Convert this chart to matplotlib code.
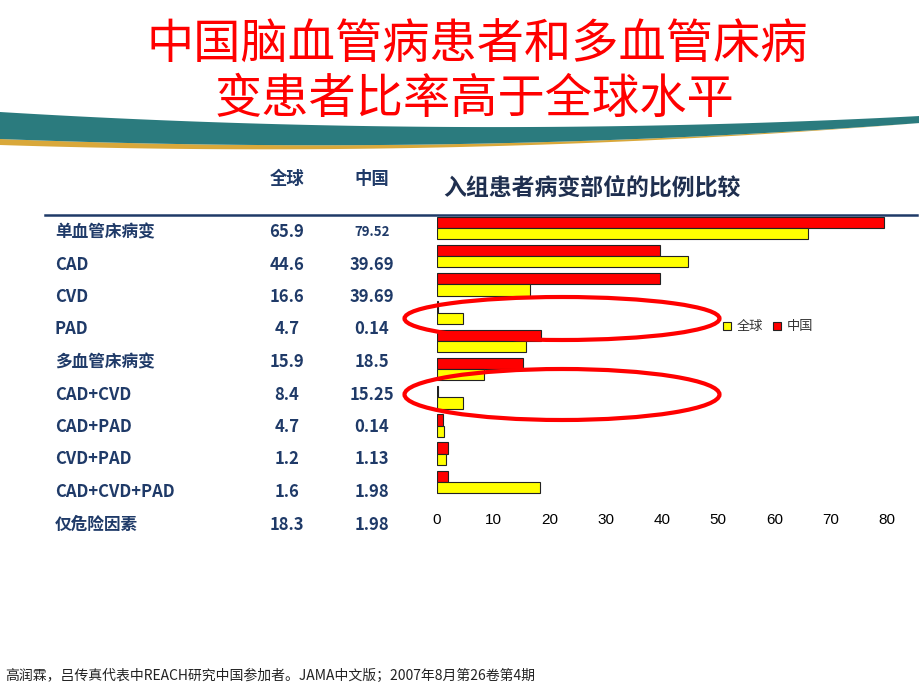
import numpy as np
import matplotlib
matplotlib.use('Agg')
import matplotlib.pyplot as plt
from matplotlib.patches import Ellipse, Polygon

plt.rcParams['font.family'] = ['Noto Sans CJK SC', 'DejaVu Sans']

categories = ['单血管床病变', 'CAD', 'CVD', 'PAD', '多血管床病变',
              'CAD+CVD', 'CAD+PAD', 'CVD+PAD', 'CAD+CVD+PAD', '仅危险因素']
global_vals = [65.9, 44.6, 16.6, 4.7, 15.9, 8.4, 4.7, 1.2, 1.6, 18.3]
china_vals = [79.52, 39.69, 39.69, 0.14, 18.5, 15.25, 0.14, 1.13, 1.98, 1.98]
global_txt = ['65.9', '44.6', '16.6', '4.7', '15.9', '8.4', '4.7', '1.2', '1.6', '18.3']
china_txt = ['79.52', '39.69', '39.69', '0.14', '18.5', '15.25', '0.14', '1.13', '1.98', '1.98']
xticks = [0, 10, 20, 30, 40, 50, 60, 70, 80]

W, H = 920, 690
navy = '#1f3a68'


def fx(x):
    return x / W


def fy(y):
    return 1 - y / H


fig = plt.figure(figsize=(9.2, 6.9), dpi=100)
fig.patch.set_facecolor('white')

# background swoosh of the slide template
xs = np.linspace(0, W, 200)
top = np.polyval(np.polyfit([0, 460, 920], [112, 127, 116], 2), xs)
bot = np.polyval(np.polyfit([0, 460, 920], [139, 144, 123], 2), xs)
gold = bot + np.linspace(6, 0, 200)
teal_pts = list(zip(fx(xs), fy(top))) + list(zip(fx(xs[::-1]), fy(bot[::-1])))
gold_pts = list(zip(fx(xs), fy(bot))) + list(zip(fx(xs[::-1]), fy(gold[::-1])))
fig.add_artist(Polygon(gold_pts, closed=True, transform=fig.transFigure,
                       fc='#d9a83a', ec='none', zorder=0.5))
fig.add_artist(Polygon(teal_pts, closed=True, transform=fig.transFigure,
                       fc='#2b7b7e', ec='none', zorder=0.6))

# title
fig.text(fx(477), fy(45), '中国脑血管病患者和多血管床病', color='red',
         fontsize=34, fontweight='light', ha='center', va='center', zorder=3)
fig.text(fx(474), fy(100), '变患者比率高于全球水平', color='red',
         fontsize=34, fontweight='light', ha='center', va='center', zorder=3)

# table
fig.text(fx(287), fy(179), '全球', color=navy, fontsize=12.5,
         fontweight='bold', ha='center', va='center')
fig.text(fx(372), fy(179), '中国', color=navy, fontsize=12.5,
         fontweight='bold', ha='center', va='center')
fig.add_artist(plt.Line2D([fx(45), fx(917)], [fy(215), fy(215)],
                          color=navy, lw=1.8, transform=fig.transFigure))
for i, cat in enumerate(categories):
    yy = fy(232 + i * 32.5)
    fig.text(fx(55), yy, cat, color=navy, fontsize=12, fontweight='bold',
             ha='left', va='center')
    fig.text(fx(287), yy, global_txt[i], color=navy, fontsize=12,
             fontweight='bold', ha='center', va='center')
    fs = 9.5 if i == 0 else 12
    fig.text(fx(372), yy, china_txt[i], color=navy, fontsize=fs,
             fontweight='bold', ha='center', va='center')

# bar chart
ax = fig.add_axes([fx(437), fy(500), (887 - 437) / W, (500 - 215) / H])
idx = np.arange(len(categories))
b_cn = ax.barh(idx - 0.2, china_vals, height=0.4, color='#ff0000',
               edgecolor='#222222', linewidth=0.8, label='中国')
b_gl = ax.barh(idx + 0.2, global_vals, height=0.4, color='#ffff00',
               edgecolor='#222222', linewidth=0.8, label='全球')
ax.set_xlim(0, 80)
ax.set_ylim(-0.46 + 285 / 28.22, -0.46)
ax.set_xticks(xticks)
ax.set_xticklabels([str(t) for t in xticks], family=['Liberation Sans'], fontsize=11)
ax.set_yticks([])
ax.tick_params(axis='x', length=0, pad=9)
for s in ax.spines.values():
    s.set_visible(False)
ax.patch.set_alpha(0)

fig.text(fx(443), fy(188), '入组患者病变部位的比例比较', color='#1f2f4f',
         fontsize=16.5, fontweight='bold', ha='left', va='center')

fig.legend([b_gl, b_cn], ['全球', '中国'], loc='center',
           bbox_to_anchor=(fx(768), fy(327)), ncol=2, frameon=False,
           fontsize=9.5, handlelength=0.6, handleheight=0.6,
           handletextpad=0.4, columnspacing=0.8, labelcolor='#333333')

# highlight ellipses
fig.add_artist(Ellipse((fx(562), fy(318.5)), 315 / W, 43 / H,
                       transform=fig.transFigure, fill=False,
                       ec='red', lw=3, zorder=5))
fig.add_artist(Ellipse((fx(562), fy(394.5)), 315 / W, 51 / H,
                       transform=fig.transFigure, fill=False,
                       ec='red', lw=3, zorder=5))

# source note
fig.text(fx(5), fy(676), '高润霖，吕传真代表中REACH研究中国参加者。JAMA中文版；2007年8月第26卷第4期',
         color='#222222', fontsize=10, ha='left', va='center')

fig.savefig('out.png', dpi=100)
